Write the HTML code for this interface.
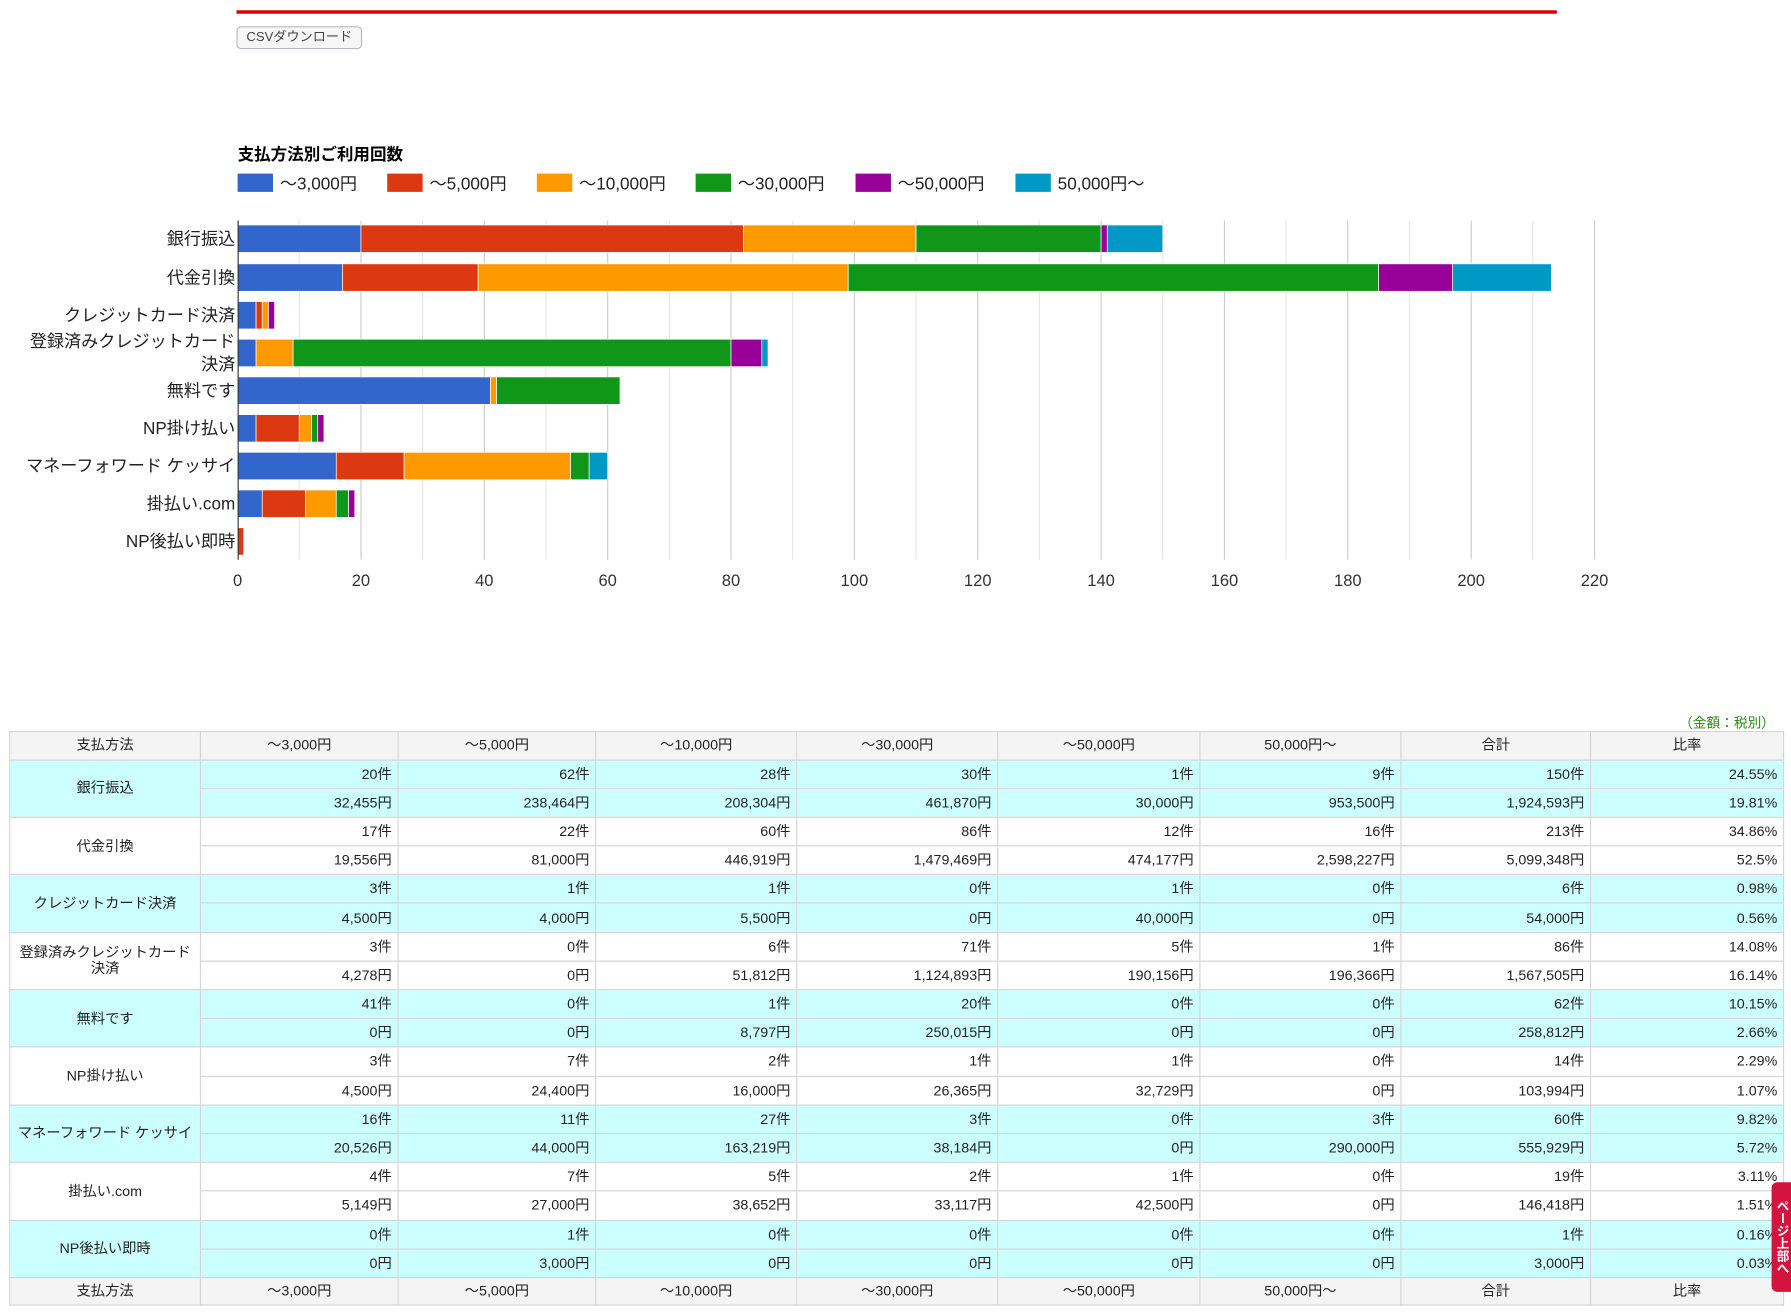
<!DOCTYPE html>
<html><head><meta charset="utf-8">
<style>
html,body{margin:0;padding:0;background:#fff;width:1791px;height:1313px;overflow:hidden}
#w{position:absolute;left:0;top:0;width:1568px;height:1150px;transform:scale(1.14222);transform-origin:0 0;font-family:"Liberation Sans","Noto Sans CJK JP",sans-serif;color:#222}
.abs{position:absolute}
table{position:absolute;left:8px;top:640px;width:1553px;border-collapse:collapse;font-size:12.5px;table-layout:fixed}
td{border:1px solid #d4d4d4;height:24.2px;line-height:24px;padding:0 5px;text-align:right;white-space:nowrap;vertical-align:middle;overflow:hidden}
td.m{text-align:center;line-height:14px;white-space:normal}
tr.h td{background:#f3f4f3;text-align:center;height:23.5px;line-height:23px}
.c td{background:#ccffff}
</style></head><body><div id="w">
<div class="abs" style="left:207px;top:9px;width:1156px;height:3px;background:#d40000"></div>
<div class="abs" style="left:207px;top:23px;width:108px;height:18px;border:1px solid #b8b8c4;border-radius:4px;background:#f6f6f6;font-size:11.5px;line-height:18px;text-align:center;color:#444">CSVダウンロード</div>
<svg class="abs" style="left:0;top:0" width="1568" height="600" font-family="Liberation Sans, Noto Sans CJK JP, sans-serif" id="s"></svg>
<div class="abs" style="right:14px;top:624px;font-size:12px;color:#2a8a12">（金額：税別）</div>
<table id="t"></table>
<div class="abs" style="left:1551px;top:1035px;width:17px;height:96px;background:#d4143f;border-radius:5px 0 0 5px;color:#fff;font-size:11px;writing-mode:vertical-rl;text-align:center;font-weight:bold">ページ上部へ</div>
</div>
<script>
var s=document.getElementById('s'),h='';
h+='<text x="208" y="140" font-size="14.5" font-weight="bold" fill="#000">支払方法別ご利用回数</text>';
var cols=['#3366cc','#dc3912','#ff9900','#109618','#990099','#0099c6'];
var leg=['～3,000円','～5,000円','～10,000円','～30,000円','～50,000円','50,000円～'];
var lx=[208,339,470,609,749,889];
for(var i=0;i<6;i++){h+='<rect x="'+lx[i]+'" y="152" width="31" height="16" fill="'+cols[i]+'"/><text x="'+(lx[i]+37)+'" y="166" font-size="15" fill="#222">'+leg[i]+'</text>';}
for(var g=1;g<=22;g++){var xx=208+g*54;h+='<line x1="'+xx+'" y1="193" x2="'+xx+'" y2="490" stroke="'+(g%2==0?'#cccccc':'#e6e6e6')+'" stroke-width="1"/>';}
for(var g=0;g<=11;g++){h+='<text x="'+(208+g*108)+'" y="513" font-size="14.5" text-anchor="middle" fill="#333">'+(g*20)+'</text>';}
var names=['銀行振込','代金引換','クレジットカード決済','登録済みクレジットカード決済','無料です','NP掛け払い','マネーフォワード ケッサイ','掛払い.com','NP後払い即時'];
var cnt=[[20,62,28,30,1,9],[17,22,60,86,12,16],[3,1,1,0,1,0],[3,0,6,71,5,1],[41,0,1,20,0,0],[3,7,2,1,1,0],[16,11,27,3,0,3],[4,7,5,2,1,0],[0,1,0,0,0,0]];
var cy=[209,243,276,309,342,375,408,441,474];
for(var r=0;r<9;r++){var c=0;for(var k=0;k<6;k++){var v=cnt[r][k];if(v>0){h+='<rect x="'+(208+c*5.4)+'" y="'+(cy[r]-12)+'" width="'+(v*5.4)+'" height="24" fill="'+cols[k]+'" stroke="#fff" stroke-width="0.6"/>';}c+=v;}
if(r==3){h+='<text x="206" y="304" font-size="15" text-anchor="end" fill="#222">登録済みクレジットカード</text><text x="206" y="324" font-size="15" text-anchor="end" fill="#222">決済</text>';}
else h+='<text x="206" y="'+(cy[r]+5)+'" font-size="15" text-anchor="end" fill="#222">'+names[r]+'</text>';}
h+='<line x1="208.5" y1="193" x2="208.5" y2="490" stroke="#333" stroke-width="1"/>';
s.innerHTML=h;
var yen=[[32455,238464,208304,461870,30000,953500,1924593],[19556,81000,446919,1479469,474177,2598227,5099348],[4500,4000,5500,0,40000,0,54000],[4278,0,51812,1124893,190156,196366,1567505],[0,0,8797,250015,0,0,258812],[4500,24400,16000,26365,32729,0,103994],[20526,44000,163219,38184,0,290000,555929],[5149,27000,38652,33117,42500,0,146418],[0,3000,0,0,0,0,3000]];
var tot=[150,213,6,86,62,14,60,19,1];
var p1=['24.55%','34.86%','0.98%','14.08%','10.15%','2.29%','9.82%','3.11%','0.16%'];
var p2=['19.81%','52.5%','0.56%','16.14%','2.66%','1.07%','5.72%','1.51%','0.03%'];
var wd=[167,173,173,176,176,177,176,166,169];
var hd=['支払方法','～3,000円','～5,000円','～10,000円','～30,000円','～50,000円','50,000円～','合計','比率'];
var t='<colgroup>';wd.forEach(function(w){t+='<col style="width:'+w+'px">'});t+='</colgroup>';
var hr='<tr class="h">'+hd.map(function(x){return '<td>'+x+'</td>'}).join('')+'</tr>';
t+=hr;
function f(n){return n.toLocaleString('en-US')}
var tn=['銀行振込','代金引換','クレジットカード決済','登録済みクレジットカード<br>決済','無料です','NP掛け払い','マネーフォワード ケッサイ','掛払い.com','NP後払い即時'];
for(var r=0;r<9;r++){var cl=r%2==0?' class="c"':'';
t+='<tr'+cl+'><td class="m" rowspan="2">'+tn[r]+'</td>';for(var k=0;k<6;k++)t+='<td>'+cnt[r][k]+'件</td>';t+='<td>'+tot[r]+'件</td><td>'+p1[r]+'</td></tr>';
t+='<tr'+cl+'>';for(var k=0;k<7;k++)t+='<td>'+f(yen[r][k])+'円</td>';t+='<td>'+p2[r]+'</td></tr>';}
t+=hr;
document.getElementById('t').innerHTML=t;
</script>
</body></html>
